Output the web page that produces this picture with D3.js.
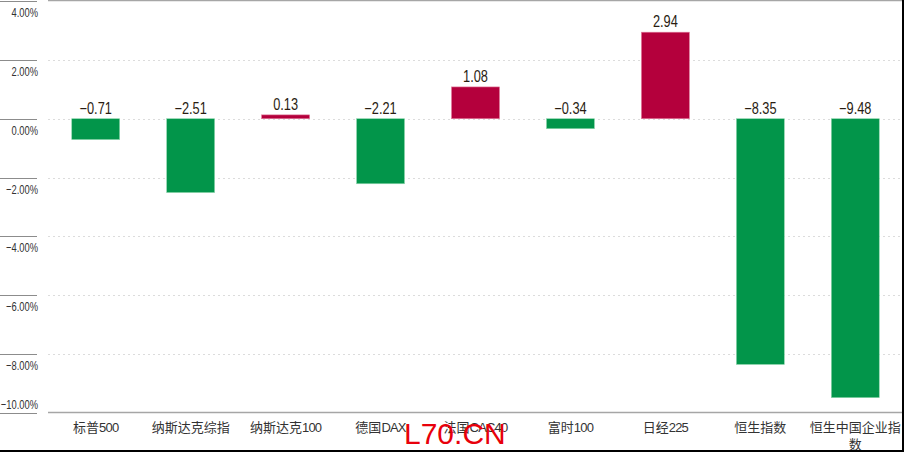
<!DOCTYPE html>
<html>
<head>
<meta charset="utf-8">
<script src="https://cdn.jsdelivr.net/npm/d3@7"></script>
<style>
  body { margin: 0; background: #fff; }
  svg { display: block; }
</style>
</head>
<body>
<div id="viz"></div>
<script>
const categories = ["标普500", "纳斯达克综指", "纳斯达克100", "德国DAX", "法国CAC40", "富时100", "日经225", "恒生指数", "恒生中国企业指数"];
const values = [-0.71, -2.51, 0.13, -2.21, 1.08, -0.34, 2.94, -8.35, -9.48];
const yTicks = [4, 2, 0, -2, -4, -6, -8, -10];

const W = 904, H = 452;
const sans = "'Liberation Sans', Arial, sans-serif";
const cjk = "'Liberation Sans', 'Noto Sans CJK SC', sans-serif";
const squeeze = 0.8; // narrow-font look

const svg = d3.select('#viz').append('svg')
    .attr('width', W)
    .attr('height', H);

const x = d3.scaleBand()
    .domain(categories)
    .range([48, 903])
    .paddingInner(0.495)
    .paddingOuter(0.25);

const y = d3.scaleLinear()
    .domain([-10, 4])
    .range([413, 1]);

// gridlines
svg.selectAll('line.grid')
    .data(yTicks.filter(d => d > -10 && d < 4))
    .enter()
    .append('line')
    .attr('class', 'grid')
    .attr('x1', 48).attr('x2', 903)
    .attr('y1', d => Math.round(y(d)) + 0.5)
    .attr('y2', d => Math.round(y(d)) + 0.5)
    .attr('stroke', '#dcdcdc')
    .attr('stroke-dasharray', '2,3');

// top and bottom frame of plot
[4, -10].forEach(v => {
    svg.append('line')
	.attr('x1', 48).attr('x2', 903)
	.attr('y1', Math.round(y(v)) - 0.5)
	.attr('y2', Math.round(y(v)) - 0.5)
	.attr('stroke', '#a6a6a6')
	.attr('stroke-width', 1.5);
});

// left tick marks + labels (labels sit under the tick, last one above)
svg.selectAll('line.ytick')
    .data(yTicks)
    .enter()
    .append('line')
    .attr('x1', 0).attr('x2', 37)
    .attr('y1', d => Math.round(y(d)) + 0.5)
    .attr('y2', d => Math.round(y(d)) + 0.5)
    .attr('stroke', '#8c8c8c')
    .attr('stroke-width', 1.2);

svg.selectAll('text.ylab')
    .data(yTicks)
    .enter()
    .append('text')
    .attr('transform', d => `translate(38,${y(d) + (d === -10 ? -4 : 16)}) scale(0.72,1)`)
    .attr('text-anchor', 'end')
    .style('font-family', sans)
    .style('font-size', '13px')
    .attr('fill', '#333')
    .text(d => d3.format('.2f')(d).replace('-', '\u2212') + '%');

// bars
svg.selectAll('rect.bar')
    .data(values)
    .enter()
    .append('rect')
    .attr('class', 'bar')
    .attr('x', (d, i) => x(categories[i]))
    .attr('width', x.bandwidth())
    .attr('y', d => y(Math.max(0, d)))
    .attr('height', d => Math.abs(y(d) - y(0)))
    .attr('fill', d => d >= 0 ? '#b4003c' : '#02954a')
    .attr('stroke', d => d >= 0 ? '#e07a9a' : '#8fd6ad')
    .attr('stroke-width', 0.6);

// value labels
svg.selectAll('text.val')
    .data(values)
    .enter()
    .append('text')
    .attr('transform', (d, i) => `translate(${x(categories[i]) + x.bandwidth() / 2},${y(Math.max(0, d)) - 5}) scale(${squeeze},1)`)
    .attr('text-anchor', 'middle')
    .style('font-family', sans)
    .style('font-size', '16px')
    .attr('fill', '#2a1d12')
    .text(d => d3.format('.2f')(d).replace('-', '\u2212'));

// category labels, wrapped when too long
categories.forEach(c => {
    const lines = c.length > 7 ? [c.slice(0, 7), c.slice(7)] : [c];
    const cx = x(c) + x.bandwidth() / 2;
    lines.forEach((l, k) => {
	const t = svg.append('text')
	    .attr('x', cx)
	    .attr('y', 432 + k * 17)
	    .attr('text-anchor', 'middle')
	    .style('font-family', cjk)
	    .style('font-size', '13px')
	    .attr('fill', '#333');
	// latin/digit runs drawn narrower, like the original
	l.split(/([A-Za-z0-9]+)/).filter(s => s).forEach(s => {
	    t.append('tspan')
		.style('letter-spacing', /[A-Za-z0-9]/.test(s) ? '-0.8px' : '0px')
		.text(s);
	});
    });
});

// watermark
svg.append('text')
    .attr('x', 404)
    .attr('y', 444)
    .style('font-family', sans)
    .style('font-size', '30px')
    .attr('fill', '#e8000b')
    .text('L70.CN');

// outer frame (right and bottom)
svg.append('line')
    .attr('x1', 903).attr('x2', 903).attr('y1', 0).attr('y2', 452)
    .attr('stroke', '#000').attr('stroke-width', 2);
svg.append('line')
    .attr('x1', 0).attr('x2', 904).attr('y1', 451).attr('y2', 451)
    .attr('stroke', '#000').attr('stroke-width', 2);
</script>
</body>
</html>
